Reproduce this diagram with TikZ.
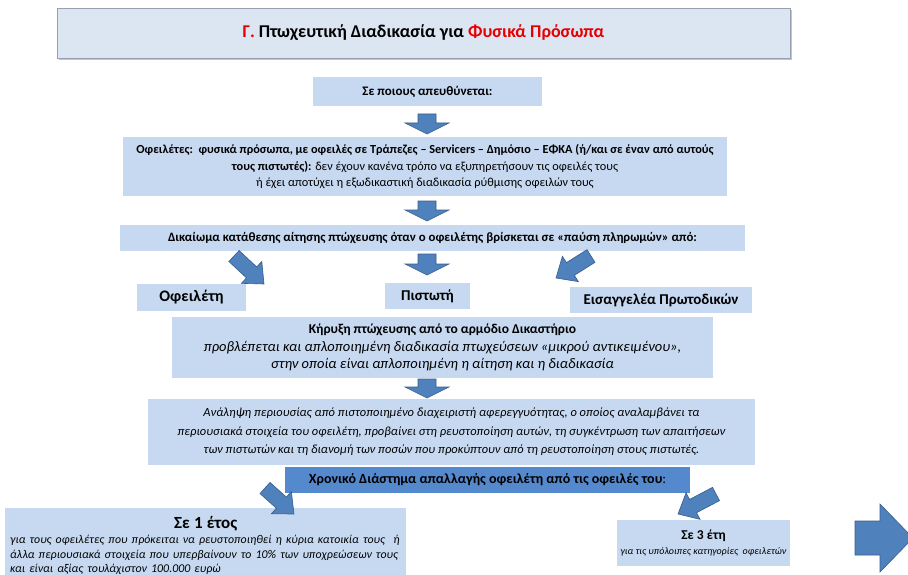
\documentclass[tikz,border=0pt]{standalone}
\usepackage{fontspec}
\setmainfont{Carlito}
\usetikzlibrary{calc,shadows}
\definecolor{lightbox}{RGB}{198,217,241}
\definecolor{titlefill}{RGB}{220,230,242}
\definecolor{titleline}{RGB}{150,160,175}
\definecolor{darkbox}{RGB}{84,137,206}
\definecolor{arrowfill}{RGB}{79,129,189}
\definecolor{arrowline}{RGB}{56,93,138}
\definecolor{titlered}{RGB}{230,0,0}
\newcommand\blockarrow[5]{%
  \coordinate (tmpH) at ($(#2)!#5!(#1)$);
  \draw[barrow] ($(#1)!#3!90:(#2)$) -- ($(tmpH)!#3!90:(#2)$) -- ($(tmpH)!#4!90:(#2)$) -- (#2)
    -- ($(tmpH)!#4!-90:(#2)$) -- ($(tmpH)!#3!-90:(#2)$) -- ($(#1)!#3!-90:(#2)$) -- cycle;}
\begin{document}
\begin{tikzpicture}[x=1pt,y=-1pt,
  box/.style={fill=lightbox, inner sep=0pt, align=center, font=\fontsize{12.3}{16.5}\selectfont},
  labelbox/.style={box, font=\fontsize{15}{17}\selectfont\bfseries},
  darkstyle/.style={fill=darkbox, inner sep=0pt, align=center, font=\fontsize{14}{16}\selectfont},
  titlebox/.style={fill=titlefill, draw=titleline, line width=0.8pt, drop shadow={shadow xshift=1.5pt, shadow yshift=-2.5pt, fill=black!45}, inner sep=0pt, font=\fontsize{18}{20}\selectfont\bfseries},
  barrow/.style={fill=arrowfill, draw=arrowline, line width=0.6pt, line join=miter}]
\useasboundingbox (0,0) rectangle (908,575);
\clip (0,0) rectangle (908,575);

\node[titlebox, minimum width=733pt, minimum height=50pt] (title) at (423.5,33)
  {\textcolor{titlered}{Γ.} Πτωχευτική Διαδικασία για \textcolor{titlered}{Φυσικά Πρόσωπα}};

\node[box, font=\fontsize{13}{16}\selectfont, minimum width=229pt, minimum height=29pt] (who) at (427.5,91.5)
  {\textbf{Σε ποιους απευθύνεται:}};

\node[box, minimum width=604pt, minimum height=59pt] (debtors) at (425,166.5)
  {\textbf{Οφειλέτες:\ \ φυσικά πρόσωπα, με οφειλές σε Τράπεζες – Servicers – Δημόσιο – ΕΦΚΑ (ή/και σε έναν από αυτούς}\\
   \textbf{τους πιστωτές):} δεν έχουν κανένα τρόπο να εξυπηρετήσουν τις οφειλές τους\\
   ή έχει αποτύχει η εξωδικαστική διαδικασία ρύθμισης οφειλών τους};

\node[box, font=\fontsize{12.8}{16}\selectfont, minimum width=625pt, minimum height=26pt] (right) at (432.5,238)
  {\textbf{Δικαίωμα κατάθεσης αίτησης πτώχευσης όταν ο οφειλέτης βρίσκεται σε «παύση πληρωμών» από:}};

\node[labelbox, font=\fontsize{16}{18}\selectfont\bfseries, minimum width=109pt, minimum height=27pt] (debtor) at (191.5,297.5) {Οφειλέτη};
\node[labelbox, minimum width=85pt, minimum height=26pt] (creditor) at (427.5,296) {Πιστωτή};
\node[labelbox, minimum width=182pt, minimum height=26pt] (prosecutor) at (661,300) {Εισαγγελέα Πρωτοδικών};

\node[box, font=\fontsize{14.5}{17.5}\selectfont, minimum width=541pt, minimum height=61pt] (decl) at (442.5,347.5)
  {{\fontsize{13.5}{17.5}\selectfont\bfseries Κήρυξη πτώχευσης από το αρμόδιο Δικαστήριο}\\
   \textit{προβλέπεται και απλοποιημένη διαδικασία πτωχεύσεων «μικρού αντικειμένου»,}\\
   \textit{στην οποία είναι απλοποιημένη η αίτηση και η διαδικασία}};

\node[box, font=\fontsize{12.5}{18.5}\selectfont, minimum width=607pt, minimum height=66pt] (admin) at (451.5,432)
  {\textit{Ανάληψη περιουσίας από πιστοποιημένο διαχειριστή αφερεγγυότητας, ο οποίος αναλαμβάνει τα}\\
   \textit{περιουσιακά στοιχεία του οφειλέτη, προβαίνει στη ρευστοποίηση αυτών, τη συγκέντρωση των απαιτήσεων}\\
   \textit{των πιστωτών και τη διανομή των ποσών που προκύπτουν από τη ρευστοποίηση στους πιστωτές.}};

\node[darkstyle, minimum width=405pt, minimum height=26pt] (period) at (487.5,480)
  {\textbf{Χρονικό Διάστημα απαλλαγής οφειλέτη από τις οφειλές του}:};

\node[box, anchor=north west, text width=391pt, minimum height=75pt, inner xsep=5pt, inner ysep=1.5pt, align=left] (oneyear) at (5,508)
  {{\centering\fontsize{17}{17}\selectfont\bfseries Σε 1 έτος\par}
   {\fontsize{11.9}{14.8}\selectfont\itshape για τους οφειλέτες που πρόκειται να ρευστοποιηθεί η κύρια κατοικία τους\ \ ή\\
   άλλα περιουσιακά στοιχεία που υπερβαίνουν το 10\% των υποχρεώσεων τους\\
   και είναι αξίας τουλάχιστον 100.000 ευρώ\par}};

\node[box, font=\fontsize{10}{15}\selectfont, minimum width=173pt, minimum height=46pt] (threeyears) at (703.5,543)
  {{\fontsize{13.5}{15}\selectfont\bfseries Σε 3 έτη}\\
   \textit{για τις υπόλοιπες κατηγορίες\ \ οφειλετών}};

% block arrows
\coordinate (a1t) at (427,114);  \coordinate (a1h) at (427,134);
\coordinate (a2t) at (427,201);  \coordinate (a2h) at (427,221);
\coordinate (a3t) at (234,256);  \coordinate (a3h) at (264,284);
\coordinate (a4t) at (427,254);  \coordinate (a4h) at (427,275);
\coordinate (a5t) at (591,256);  \coordinate (a5h) at (556,278);
\coordinate (a6t) at (427,379);  \coordinate (a6h) at (427,398);
\coordinate (a7t) at (265,488);  \coordinate (a7h) at (294,514);
\coordinate (a8t) at (716,494);  \coordinate (a8h) at (678,514);
\coordinate (a9t) at (855,538);  \coordinate (a9h) at (913,538);

\blockarrow{a1t}{a1h}{9pt}{22pt}{11pt}
\blockarrow{a2t}{a2h}{9pt}{22pt}{11pt}
\blockarrow{a3t}{a3h}{7.5pt}{15pt}{17pt}
\blockarrow{a4t}{a4h}{9pt}{22pt}{11pt}
\blockarrow{a5t}{a5h}{7.5pt}{15pt}{17pt}
\blockarrow{a6t}{a6h}{9pt}{22pt}{11pt}
\blockarrow{a7t}{a7h}{7.5pt}{15pt}{17pt}
\blockarrow{a8t}{a8h}{7.5pt}{15pt}{17pt}
\blockarrow{a9t}{a9h}{17pt}{34pt}{33pt}
\end{tikzpicture}
\end{document}
